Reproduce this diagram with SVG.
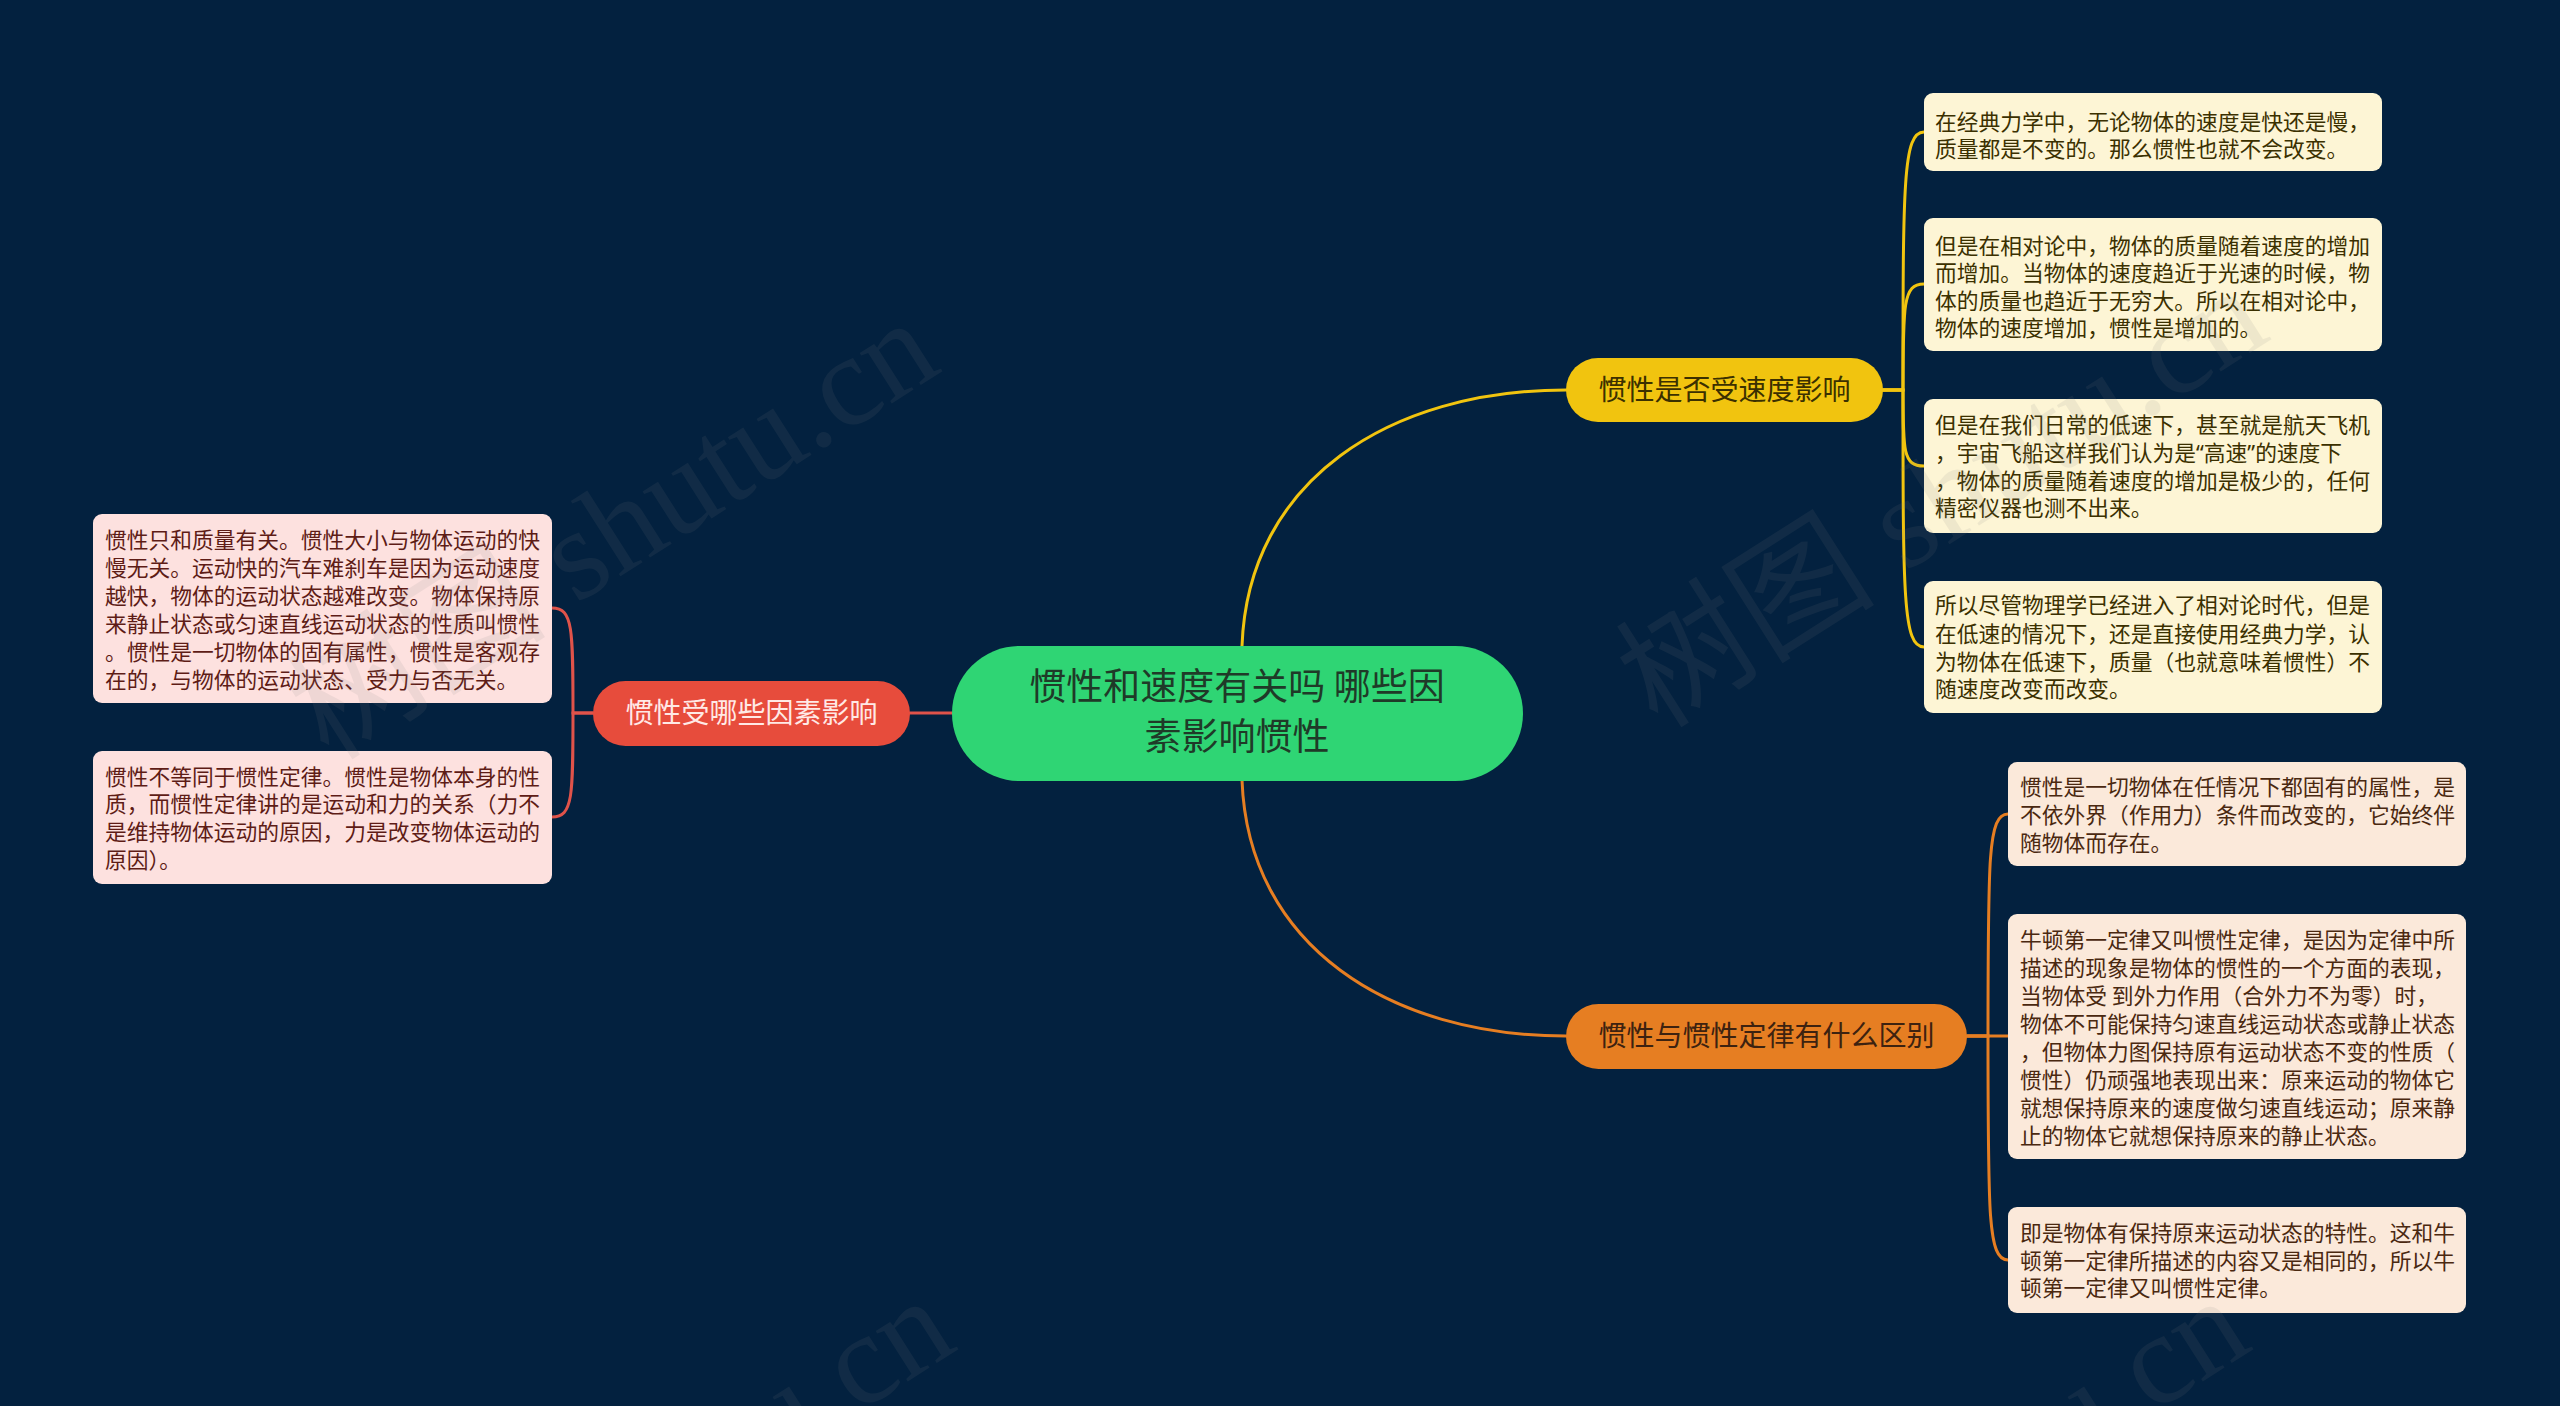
<svg xmlns="http://www.w3.org/2000/svg" width="2560" height="1406" viewBox="0 0 2560 1406">
<style>
.cjk{font-family:"Noto Sans CJK SC","Noto Sans",sans-serif;}
.lat{font-family:"Noto Sans","Noto Sans CJK SC",sans-serif;}
.leaf{font-size:21.75px;}
.ly{fill:#3b3000;} .lo{fill:#4a2810;} .lr{fill:#5e1c16;}
.br{font-size:28px;text-anchor:middle;}
.wm{font-family:"Liberation Serif","Noto Sans CJK SC",serif;font-size:130px;fill:#808080;opacity:0.11;}
.c{fill:none;stroke-width:3;stroke-linecap:round;}
</style>
<rect x="0" y="0" width="2560" height="1406" fill="#03213f"/>
<g id="connectors">
  <path class="c" stroke="#f1c40f" d="M1242 646 C1248 480 1390 390 1566 390"/>
  <path class="c" stroke="#e67e22" d="M1242 780 C1248 946 1390 1036 1566 1036"/>
  <path class="c" stroke="#e0534a" d="M910 713 L952 713"/>
  <path class="c" stroke="#f1c40f" d="M1883 390 H1903 C1903 184 1903 132 1924 132"/>
  <path class="c" stroke="#f1c40f" d="M1883 390 H1903 C1903 305 1903 284 1924 284"/>
  <path class="c" stroke="#f1c40f" d="M1883 390 H1903 C1903 451 1903 466 1924 466"/>
  <path class="c" stroke="#f1c40f" d="M1883 390 H1903 C1903 596 1903 647 1924 647"/>
  <path class="c" stroke="#e67e22" d="M1967 1036 H1988 C1988 858 1988 814 2008 814"/>
  <path class="c" stroke="#e67e22" d="M1967 1036 H2008"/>
  <path class="c" stroke="#e67e22" d="M1967 1036 H1988 C1988 1215 1988 1260 2008 1260"/>
  <path class="c" stroke="#e0534a" d="M593 713 H573 C573 629 573 608 552 608"/>
  <path class="c" stroke="#e0534a" d="M593 713 H573 C573 796 573 817 552 817"/>
</g>
<g id="root">
  <rect x="952" y="646" width="571" height="135" rx="67.5" fill="#2fd574"/>
  <text class="cjk" font-size="37" fill="#1f3a28" text-anchor="middle"><tspan x="1237" y="700">惯性和速度有关吗 哪些因</tspan><tspan x="1237" y="750">素影响惯性</tspan></text>
</g>
<g id="branch-speed">
  <rect x="1566" y="358" width="317" height="64" rx="32" fill="#f1c40f"/>
  <text class="cjk br" x="1724.5" y="400" fill="#3b3000">惯性是否受速度影响</text>
</g>
<g id="branch-law">
  <rect x="1566" y="1004" width="401" height="65" rx="32.5" fill="#e67e22"/>
  <text class="cjk br" x="1766.5" y="1046" fill="#3d2210">惯性与惯性定律有什么区别</text>
</g>
<g id="branch-factors">
  <rect x="593" y="681" width="317" height="65" rx="32.5" fill="#e74c3c"/>
  <text class="cjk br" x="751.5" y="723" fill="#ffe9e6">惯性受哪些因素影响</text>
</g>
<g id="leaf-y1">
  <rect x="1924" y="93" width="458" height="78" rx="9" fill="#fdf5d5"/>
  <text class="cjk leaf ly"><tspan x="1935" y="130">在经典力学中，无论物体的速度是快还是慢，</tspan><tspan x="1935" y="157">质量都是不变的。那么惯性也就不会改变。</tspan></text>
</g>
<g id="leaf-y2">
  <rect x="1924" y="218" width="458" height="133" rx="9" fill="#fdf5d5"/>
  <text class="cjk leaf ly"><tspan x="1935" y="254">但是在相对论中，物体的质量随着速度的增加</tspan><tspan x="1935" y="281">而增加。当物体的速度趋近于光速的时候，物</tspan><tspan x="1935" y="309">体的质量也趋近于无穷大。所以在相对论中，</tspan><tspan x="1935" y="336">物体的速度增加，惯性是增加的。</tspan></text>
</g>
<g id="leaf-y3">
  <rect x="1924" y="399" width="458" height="134" rx="9" fill="#fdf5d5"/>
  <text class="cjk leaf ly"><tspan x="1935" y="433">但是在我们日常的低速下，甚至就是航天飞机</tspan><tspan x="1935" y="461">，宇宙飞船这样我们认为是<tspan class="lat">“</tspan>高速<tspan class="lat">”</tspan>的速度下</tspan><tspan x="1935" y="489">，物体的质量随着速度的增加是极少的，任何</tspan><tspan x="1935" y="516">精密仪器也测不出来。</tspan></text>
</g>
<g id="leaf-y4">
  <rect x="1924" y="581" width="458" height="132" rx="9" fill="#fdf5d5"/>
  <text class="cjk leaf ly"><tspan x="1935" y="613">所以尽管物理学已经进入了相对论时代，但是</tspan><tspan x="1935" y="642">在低速的情况下，还是直接使用经典力学，认</tspan><tspan x="1935" y="670">为物体在低速下，质量（也就意味着惯性）不</tspan><tspan x="1935" y="697">随速度改变而改变。</tspan></text>
</g>
<g id="leaf-o1">
  <rect x="2008" y="762" width="458" height="104" rx="9" fill="#fbe9da"/>
  <text class="cjk leaf lo"><tspan x="2020" y="795">惯性是一切物体在任情况下都固有的属性，是</tspan><tspan x="2020" y="823">不依外界（作用力）条件而改变的，它始终伴</tspan><tspan x="2020" y="851">随物体而存在。</tspan></text>
</g>
<g id="leaf-o2">
  <rect x="2008" y="914" width="458" height="245" rx="9" fill="#fbe9da"/>
  <text class="cjk leaf lo"><tspan x="2020" y="948">牛顿第一定律又叫惯性定律，是因为定律中所</tspan><tspan x="2020" y="976">描述的现象是物体的惯性的一个方面的表现，</tspan><tspan x="2020" y="1004">当物体受 到外力作用（合外力不为零）时，</tspan><tspan x="2020" y="1032">物体不可能保持匀速直线运动状态或静止状态</tspan><tspan x="2020" y="1060">，但物体力图保持原有运动状态不变的性质（</tspan><tspan x="2020" y="1088">惯性）仍顽强地表现出来：原来运动的物体它</tspan><tspan x="2020" y="1116">就想保持原来的速度做匀速直线运动；原来静</tspan><tspan x="2020" y="1144">止的物体它就想保持原来的静止状态。</tspan></text>
</g>
<g id="leaf-o3">
  <rect x="2008" y="1207" width="458" height="106" rx="9" fill="#fbe9da"/>
  <text class="cjk leaf lo"><tspan x="2020" y="1241">即是物体有保持原来运动状态的特性。这和牛</tspan><tspan x="2020" y="1269">顿第一定律所描述的内容又是相同的，所以牛</tspan><tspan x="2020" y="1296">顿第一定律又叫惯性定律。</tspan></text>
</g>
<g id="leaf-r1">
  <rect x="93" y="514" width="459" height="189" rx="9" fill="#fde1df"/>
  <text class="cjk leaf lr"><tspan x="105" y="548">惯性只和质量有关。惯性大小与物体运动的快</tspan><tspan x="105" y="576">慢无关。运动快的汽车难刹车是因为运动速度</tspan><tspan x="105" y="604">越快，物体的运动状态越难改变。物体保持原</tspan><tspan x="105" y="632">来静止状态或匀速直线运动状态的性质叫惯性</tspan><tspan x="105" y="660">。惯性是一切物体的固有属性，惯性是客观存</tspan><tspan x="105" y="688">在的，与物体的运动状态、受力与否无关。</tspan></text>
</g>
<g id="leaf-r2">
  <rect x="93" y="751" width="459" height="133" rx="9" fill="#fde1df"/>
  <text class="cjk leaf lr"><tspan x="105" y="785">惯性不等同于惯性定律。惯性是物体本身的性</tspan><tspan x="105" y="812">质，而惯性定律讲的是运动和力的关系（力不</tspan><tspan x="105" y="840">是维持物体运动的原因，力是改变物体运动的</tspan><tspan x="105" y="868">原因）。</tspan></text>
</g>
<g id="watermarks">
  <text class="wm" transform="translate(329 762) rotate(-32.5)">树图 shutu.cn</text>
  <text class="wm" transform="translate(1658 730) rotate(-32.5)">树图 shutu.cn</text>
  <text class="wm" transform="translate(345 1740) rotate(-32.5)">树图 shutu.cn</text>
  <text class="wm" transform="translate(1640 1740) rotate(-32.5)">树图 shutu.cn</text>
</g>
</svg>
